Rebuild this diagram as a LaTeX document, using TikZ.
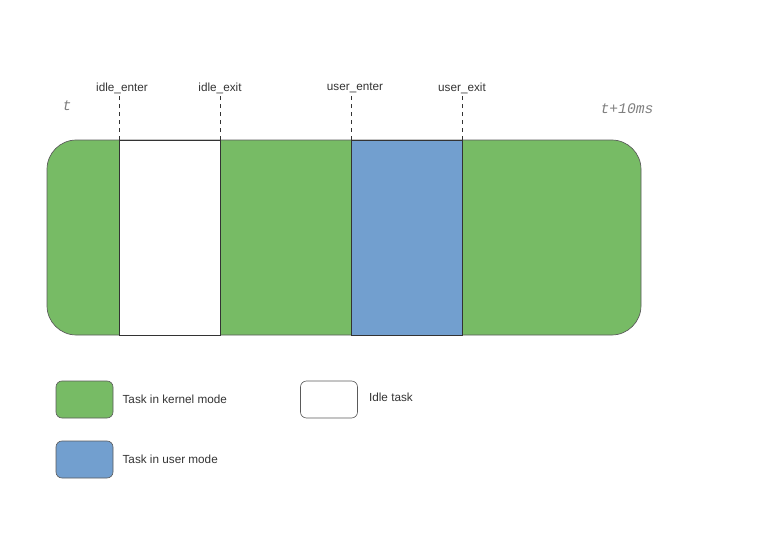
\documentclass[tikz,border=0pt]{standalone}
\usepackage{fontspec}
\setmainfont{Liberation Sans}
\setmonofont{Liberation Mono}
\usetikzlibrary{positioning}

\definecolor{kernelgreen}{HTML}{77BB65}
\definecolor{userblue}{HTML}{729FCF}
\definecolor{edgegray}{HTML}{5A5A5A}
\definecolor{textgray}{HTML}{333333}

\tikzset{
  kernel/.style={fill=kernelgreen, draw=edgegray, line width=0.5pt},
  idle/.style={fill=white, draw=textgray, line width=0.6pt},
  user/.style={fill=userblue, draw=textgray, line width=0.6pt},
  tick/.style={draw=textgray, dashed, line width=0.5pt},
  event/.style={text=textgray, inner sep=0pt, font=\fontsize{8.8}{10}\selectfont},
  timemark/.style={text=gray, inner sep=0pt, font=\ttfamily\itshape\fontsize{11}{12}\selectfont},
  keybox/.style={draw=edgegray, line width=0.5pt, rounded corners=4.5pt,
    minimum width=42.75pt, minimum height=27.75pt, inner sep=0pt},
  keylabel/.style={text=textgray, inner sep=0pt, font=\fontsize{8.8}{10}\selectfont}
}

\begin{document}
\begin{tikzpicture}[x=0.75pt,y=-0.75pt]
\useasboundingbox (0,0) rectangle (768,543);
\coordinate (BarNW) at (47,140);
\coordinate (BarSE) at (641,335);

% time bar
\filldraw[kernel, rounded corners=22pt] (BarNW) rectangle (BarSE);
\filldraw[idle] (119,140) rectangle (220,335);
\filldraw[user] (351,140) rectangle (462,335);

% events
\foreach \x/\lx/\name/\txt in {119/122/IdleEnter/idle\_enter, 220/220/IdleExit/idle\_exit,
    351/355/UserEnter/user\_enter, 462/462/UserExit/user\_exit}{
  \coordinate (\name) at (\x,140);
  \draw[tick] (\name) -- ++(0,-45);
  \node[event] (\name Label) at (\lx,88) {\txt};
}
\node[timemark] (Start) at (67,106) {t};
\node[timemark] (End) at (627,109) {t+10ms};

% legend
\node[keybox, fill=kernelgreen] (KernelKey) at (84.5,399.5) {};
\node[keylabel, right=6.75pt of KernelKey] (KernelText) {Task in kernel mode};
\node[keybox, fill=white] (IdleKey) at (329,399.5) {};
\node[keylabel, right=8.25pt of IdleKey, yshift=1.5pt] (IdleText) {Idle task};
\node[keybox, fill=userblue] (UserKey) at (84.5,459.5) {};
\node[keylabel, right=6.75pt of UserKey] (UserText) {Task in user mode};
\end{tikzpicture}
\end{document}
